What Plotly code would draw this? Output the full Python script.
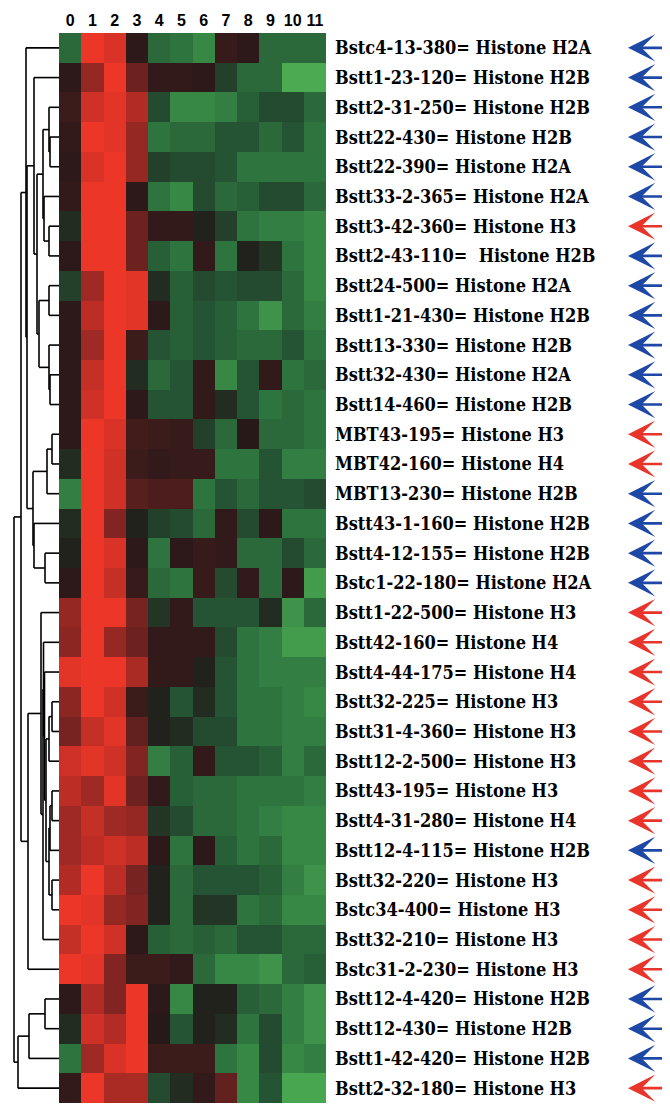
import plotly.graph_objects as go

# page body has an 8px default margin; figure fills the rest of the 670x1105 window
OFF = 8
W, H = 670 - OFF, 1105 - OFF

columns = [str(i) for i in range(12)]

labels = [
    "Bstc4-13-380= Histone H2A",
    "Bstt1-23-120= Histone H2B",
    "Bstt2-31-250= Histone H2B",
    "Bstt22-430= Histone H2B",
    "Bstt22-390= Histone H2A",
    "Bstt33-2-365= Histone H2A",
    "Bstt3-42-360= Histone H3",
    "Bstt2-43-110=\u00a0 Histone H2B",
    "Bstt24-500= Histone H2A",
    "Bstt1-21-430= Histone H2B",
    "Bstt13-330= Histone H2B",
    "Bstt32-430= Histone H2A",
    "Bstt14-460= Histone H2B",
    "MBT43-195= Histone H3",
    "MBT42-160= Histone H4",
    "MBT13-230= Histone H2B",
    "Bstt43-1-160= Histone H2B",
    "Bstt4-12-155= Histone H2B",
    "Bstc1-22-180= Histone H2A",
    "Bstt1-22-500= Histone H3",
    "Bstt42-160= Histone H4",
    "Bstt4-44-175= Histone H4",
    "Bstt32-225= Histone H3",
    "Bstt31-4-360= Histone H3",
    "Bstt12-2-500= Histone H3",
    "Bstt43-195= Histone H3",
    "Bstt4-31-280= Histone H4",
    "Bstt12-4-115= Histone H2B",
    "Bstt32-220= Histone H3",
    "Bstc34-400= Histone H3",
    "Bstt32-210= Histone H3",
    "Bstc31-2-230= Histone H3",
    "Bstt12-4-420= Histone H2B",
    "Bstt12-430= Histone H2B",
    "Bstt1-42-420= Histone H2B",
    "Bstt2-32-180= Histone H3",
]

# arrow class: 'b' = blue (H2A/H2B), 'r' = red (H3/H4)
arrow_class = ["b", "b", "b", "b", "b", "b", "r", "b", "b", "b", "b", "b",
               "b", "r", "r", "b", "b", "b", "b", "r", "r", "r", "r", "r",
               "r", "r", "r", "b", "r", "r", "r", "r", "b", "b", "b", "r"]

# expression values (-1 green ... 0 black ... +1 red)
values = [
    [-0.40, 1.00, 0.90, 0.05, -0.40, -0.45, -0.55, 0.10, 0.05, -0.40, -0.40, -0.40],
    [0.05, 0.55, 1.00, 0.35, 0.08, 0.08, 0.05, -0.20, -0.40, -0.40, -0.75, -0.75],
    [0.12, 0.85, 0.95, 0.70, -0.25, -0.55, -0.55, -0.50, -0.35, -0.25, -0.25, -0.40],
    [0.08, 1.00, 0.95, 0.55, -0.45, -0.40, -0.40, -0.30, -0.30, -0.40, -0.30, -0.45],
    [0.05, 0.90, 1.00, 0.55, -0.20, -0.25, -0.25, -0.30, -0.45, -0.45, -0.45, -0.45],
    [0.08, 1.00, 1.00, 0.05, -0.45, -0.55, -0.25, -0.40, -0.35, -0.25, -0.25, -0.40],
    [-0.10, 1.00, 1.00, 0.35, 0.08, 0.08, -0.05, -0.20, -0.45, -0.50, -0.50, -0.55],
    [0.05, 1.00, 1.00, 0.35, -0.35, -0.45, 0.08, -0.45, -0.05, -0.15, -0.45, -0.55],
    [-0.20, 0.60, 1.00, 0.95, -0.10, -0.35, -0.25, -0.30, -0.25, -0.25, -0.40, -0.55],
    [0.05, 0.75, 1.00, 0.95, 0.05, -0.35, -0.30, -0.35, -0.45, -0.60, -0.40, -0.50],
    [0.05, 0.60, 1.00, 0.12, -0.30, -0.35, -0.30, -0.35, -0.40, -0.40, -0.30, -0.45],
    [0.05, 0.80, 1.00, -0.10, -0.40, -0.30, 0.08, -0.55, -0.30, 0.08, -0.45, -0.40],
    [0.05, 0.85, 1.00, 0.05, -0.30, -0.30, 0.08, -0.10, -0.30, -0.45, -0.40, -0.45],
    [0.05, 1.00, 0.90, 0.15, 0.12, 0.10, -0.20, -0.40, 0.02, -0.40, -0.40, -0.45],
    [-0.10, 1.00, 0.85, 0.12, 0.08, 0.10, 0.10, -0.45, -0.45, -0.30, -0.50, -0.50],
    [-0.50, 1.00, 0.85, 0.25, 0.20, 0.20, -0.45, -0.30, -0.40, -0.30, -0.30, -0.25],
    [-0.10, 1.00, 0.45, -0.05, -0.20, -0.25, -0.40, 0.08, -0.25, 0.05, -0.45, -0.45],
    [-0.05, 1.00, 0.90, 0.05, -0.45, 0.05, 0.10, 0.08, -0.40, -0.40, -0.25, -0.40],
    [0.05, 1.00, 0.80, 0.10, -0.40, -0.45, 0.10, -0.25, 0.08, -0.40, 0.05, -0.65],
    [0.55, 1.00, 1.00, 0.40, -0.15, 0.08, -0.30, -0.30, -0.30, -0.10, -0.60, -0.40],
    [0.50, 1.00, 0.55, 0.35, 0.08, 0.08, 0.08, -0.25, -0.45, -0.50, -0.65, -0.65],
    [0.95, 1.00, 1.00, 0.65, 0.08, 0.08, -0.05, -0.30, -0.45, -0.50, -0.50, -0.50],
    [0.50, 1.00, 0.85, 0.12, -0.05, -0.30, -0.10, -0.30, -0.45, -0.45, -0.50, -0.55],
    [0.40, 0.80, 0.95, 0.30, -0.05, -0.10, -0.25, -0.25, -0.45, -0.45, -0.50, -0.50],
    [0.85, 0.95, 0.85, 0.45, -0.50, -0.35, 0.08, -0.30, -0.30, -0.35, -0.50, -0.40],
    [0.75, 0.60, 0.95, 0.35, 0.08, -0.35, -0.40, -0.40, -0.45, -0.45, -0.45, -0.50],
    [0.60, 0.80, 0.60, 0.55, -0.15, -0.25, -0.40, -0.40, -0.45, -0.50, -0.55, -0.55],
    [0.60, 0.75, 0.85, 0.75, 0.05, -0.45, 0.05, -0.35, -0.45, -0.40, -0.55, -0.55],
    [0.70, 1.00, 0.75, 0.40, -0.05, -0.40, -0.30, -0.30, -0.30, -0.35, -0.50, -0.60],
    [1.00, 0.95, 0.55, 0.45, -0.05, -0.40, -0.15, -0.15, -0.45, -0.40, -0.55, -0.55],
    [0.80, 1.00, 0.85, 0.05, -0.35, -0.40, -0.35, -0.40, -0.30, -0.30, -0.40, -0.40],
    [1.00, 0.95, 0.45, 0.12, 0.12, 0.08, -0.40, -0.55, -0.55, -0.60, -0.40, -0.35],
    [0.05, 0.70, 0.45, 1.00, 0.05, -0.55, -0.05, -0.05, -0.35, -0.40, -0.50, -0.60],
    [-0.10, 0.85, 0.70, 1.00, 0.02, -0.30, -0.05, -0.10, -0.45, -0.25, -0.50, -0.60],
    [-0.45, 0.60, 0.90, 1.00, 0.12, 0.12, 0.12, -0.45, -0.55, -0.25, -0.55, -0.50],
    [0.08, 1.00, 0.65, 0.65, -0.25, -0.10, 0.08, 0.30, -0.55, -0.30, -0.70, -0.70],
]

# dendrogram merges: (name, left, right, distance)
merges = [
    ("n34", 3, 4, 9), ("n234", 2, "n34", 10), ("n67", 6, 7, 10),
    ("n567", 5, "n67", 15), ("nA2", "n234", "n567", 16),
    ("n89", 8, 9, 10), ("n1112", 11, 12, 9), ("n1012", 10, "n1112", 10),
    ("nB2", "n89", "n1012", 20), ("P2", "nA2", "nB2", 22), ("P", 1, "P2", 25),
    ("n1314", 13, 14, 7), ("n1315", "n1314", 15, 12), ("n1718", 17, 18, 14),
    ("n1618", 16, "n1718", 25), ("Q", "n1315", "n1618", 26),
    ("Arest", "P", "Q", 32), ("Atop", 0, "Arest", 33),
    ("b2223", 22, 23, 7), ("b24", "b2223", 24, 10), ("b2526", 25, 26, 7),
    ("b27", "b2526", 27, 9), ("b2829", 28, 29, 7), ("b6", "b27", "b2829", 10),
    ("b7", "b24", "b6", 13), ("b8", 21, "b7", 14.5), ("b9", 20, "b8", 15.5),
    ("B2", "b9", 30, 16), ("B1", 19, "B2", 18), ("Btop", "B1", 31, 31),
    ("R1", "Atop", "Btop", 38),
    ("c1", 32, 33, 14), ("c2", "c1", 34, 30), ("c3", "c2", 35, 41),
    ("root", "R1", "c3", 45),
]

# ---------------- geometry (window pixel coords) ----------------
HM_L, HM_R, HM_T, HM_B = 59, 326, 33, 1103


def fx(px):
    return (px - OFF) / W


def fy(py):
    return 1 - (py - OFF) / H


colorscale = [
    [0.0, "rgb(88,192,92)"],
    [0.15, "rgb(72,166,80)"],
    [0.275, "rgb(46,116,62)"],
    [0.35, "rgb(36,84,52)"],
    [0.5, "rgb(34,24,24)"],
    [0.72, "rgb(128,36,34)"],
    [1.0, "rgb(236,54,40)"],
]

fig = go.Figure()

fig.add_trace(go.Heatmap(
    z=values, x=list(range(12)), y=list(range(len(labels))),
    zmin=-1, zmax=1, colorscale=colorscale, showscale=False,
    xgap=0, ygap=0, hoverinfo="skip",
))

# dendrogram lines
pos = {}
hgt = {}
for i in range(len(labels)):
    pos[i] = float(i)
    hgt[i] = 0.0
xs, ys = [], []
for name, a, b, d in merges:
    ya, yb = pos[a], pos[b]
    xs += [hgt[a], d, None, hgt[b], d, None, d, d, None]
    ys += [ya, ya, None, yb, yb, None, ya, yb, None]
    pos[name] = (ya + yb) / 2
    hgt[name] = d

fig.add_trace(go.Scatter(
    x=xs, y=ys, mode="lines", xaxis="x2", yaxis="y",
    line=dict(color="black", width=1.6), hoverinfo="skip", showlegend=False,
))

annotations = []
for i, lab in enumerate(labels):
    annotations.append(dict(
        x=fx(333), xref="paper", y=i, yref="y", text=lab, showarrow=False,
        xanchor="left", yanchor="middle",
        font=dict(family="DejaVu Serif Condensed", size=18, color="black", weight="bold"),
    ))
    col = "rgb(30,72,165)" if arrow_class[i] == "b" else "rgb(232,52,42)"
    annotations.append(dict(
        x=fx(628), xref="paper", y=i, yref="y", text="", showarrow=True,
        ax=45, ay=0, arrowhead=3, arrowsize=1.75, arrowwidth=2.6, arrowcolor=col,
        standoff=0,
    ))

fig.update_layout(
    width=W, height=H, margin=dict(l=0, r=0, t=0, b=0, autoexpand=False),
    paper_bgcolor="white", plot_bgcolor="white", showlegend=False,
    xaxis=dict(domain=[fx(HM_L), fx(HM_R)], range=[-0.5, 11.5], side="top",
               tickmode="array", tickvals=list(range(12)), ticktext=columns,
               ticks="", showgrid=False, zeroline=False, showline=False,
               automargin=False, ticklabelstandoff=3,
               tickfont=dict(family="Liberation Sans", size=16, color="black", weight="bold")),
    yaxis=dict(domain=[fy(HM_B), fy(HM_T)], range=[len(labels) - 0.5, -0.5],
               showticklabels=False, ticks="", showgrid=False, zeroline=False,
               automargin=False),
    xaxis2=dict(domain=[fx(OFF), fx(HM_L)], range=[HM_L - OFF, 0], anchor="y",
                showticklabels=False, ticks="", showgrid=False, zeroline=False,
                showline=False, automargin=False),
    annotations=annotations,
)

fig.write_html("out.html")
